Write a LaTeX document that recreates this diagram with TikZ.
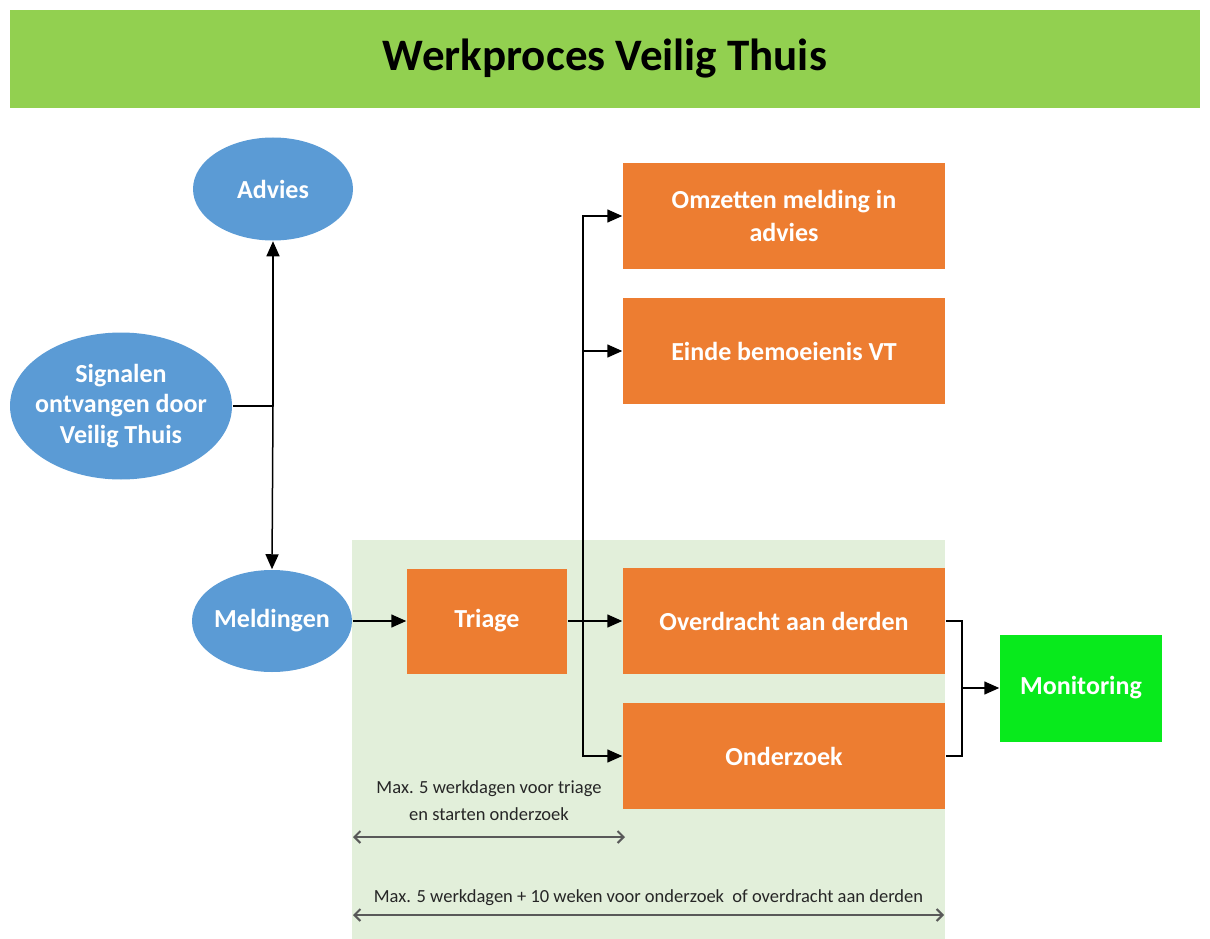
\documentclass[tikz,border=0pt]{standalone}
\usepackage{fontspec}
\setmainfont{Carlito}
\usepackage{xcolor}
\usepackage{tikz}
\usetikzlibrary{positioning}
\usetikzlibrary{arrows.meta}
\usetikzlibrary{shapes,calc}
\definecolor{vtblue}{HTML}{5B9BD5}
\definecolor{vtorange}{HTML}{ED7D31}
\definecolor{vttitle}{HTML}{92D050}
\definecolor{vtzone}{HTML}{E2EFDA}
\definecolor{vtmonitor}{HTML}{08EA1C}
\definecolor{vtdim}{HTML}{595959}
\tikzset{blob node/.style={ellipse,fill=vtblue,text=white,align=center,inner sep=-3pt,font=\fontsize{26}{30.5}\selectfont\bfseries},
  task node/.style={rectangle,fill=vtorange,text=white,align=center,inner sep=0pt,minimum width=322pt,minimum height=106pt,font=\fontsize{26}{33}\selectfont\bfseries},
  dim line/.style={draw=vtdim,line width=2pt,{Straight Barb[length=6pt,width=12pt]}-{Straight Barb[length=6pt,width=12pt]}},
  dim text/.style={font=\fontsize{18.5}{27}\selectfont,align=center,text=black!85},}

\begin{document}
\begin{tikzpicture}[x=1pt,y=-1pt,->,>={Triangle[length=15pt,width=13pt]},line width=1.5pt]
    \useasboundingbox (0,0) rectangle (1210,939);
    \node[fill=vttitle,minimum width=1190pt,minimum height=98pt,font=\fontsize{45}{50}\selectfont\bfseries] (title) at (605,59) {Werkproces Veilig Thuis};
    \node[fill=vtzone,minimum width=593pt,minimum height=399pt,inner sep=0pt] (zone) at (648.5,739.5) {};

    \node[blob node,minimum width=160pt,minimum height=103pt] (advies) at (273,189) {Advies};
    \node[blob node,minimum width=222pt,minimum height=147pt,inner sep=-13pt] (signalen) at (121,406) {Signalen\\ontvangen door\\Veilig Thuis};
    \node[blob node,minimum width=160pt,minimum height=102pt] (meldingen) at (272,621) {Meldingen};

    \node[task node,minimum width=160pt,minimum height=105pt] (triage) at (487,621) {Triage};
    \node[task node] (omzetten) at (784,216) {Omzetten melding in\\advies};
    \node[task node] (einde) at (784,351) {Einde bemoeienis VT};
    \node[task node] (overdracht) at (784,621) {Overdracht aan derden};
    \node[task node] (onderzoek) at (784,756) {Onderzoek};
    \node[rectangle,fill=vtmonitor,text=white,minimum width=162pt,minimum height=107pt,font=\fontsize{26}{30}\selectfont\bfseries] (monitoring) at (1081,688) {Monitoring};

    \coordinate (split) at (273,406);
    \coordinate (fork) at (583,621);
    \coordinate (join) at (962,688);

    \draw[-] (signalen.east) -- (split);
    \draw (split) -- (advies.south);
    \draw (split) -- (meldingen.north);
    \draw (meldingen.east) -- (triage.west);

    \draw[-] (triage.east) -- (fork);
    \draw (fork) |- (omzetten.west);
    \draw (fork) |- (einde.west);
    \draw (fork) -- (overdracht.west);
    \draw (fork) |- (onderzoek.west);

    \draw[-] (overdracht.east) -| (join);
    \draw[-] (onderzoek.east) -| (join);
    \draw (join) -- (monitoring.west);

    % termijnen
    \coordinate (d1a) at (353,837);
    \coordinate (d1b) at (625,837);
    \coordinate (d2a) at (353,915);
    \coordinate (d2b) at (944,915);
    \path[dim line] (d1a) -- node[dim text,above=12pt] (t1) {Max. 5 werkdagen voor triage\\en starten onderzoek} (d1b);
    \path[dim line] (d2a) -- node[dim text,above=5pt] (t2) {Max. 5 werkdagen + 10 weken voor onderzoek\ \ of overdracht aan derden} (d2b);
\end{tikzpicture}
\end{document}
